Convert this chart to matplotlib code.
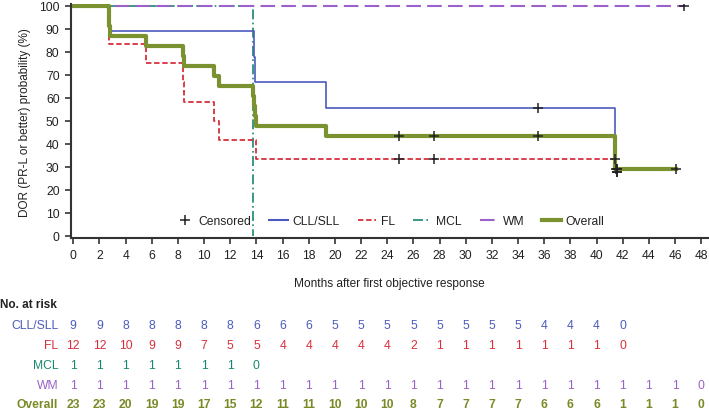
import matplotlib
matplotlib.use("Agg")
import matplotlib.pyplot as plt
from matplotlib.lines import Line2D
from matplotlib.transforms import blended_transform_factory

plt.rcParams['font.family'] = ['Liberation Sans', 'DejaVu Sans']

# ---- KM step data (time in months, survival %) ----
cll_t = [0, 2.74, 13.78, 13.9, 19.35, 41.4, 41.45]
cll_s = [100, 88.9, 77.8, 66.7, 55.6, 41.7, 27.8]
cll_end = 41.6
cll_cens_t = [35.5, 41.55, 41.6]
cll_cens_s = [55.6, 27.8, 27.8]

fl_t = [0, 2.74, 5.55, 8.39, 8.5, 10.79, 11.12, 14.0]
fl_s = [100, 83.3, 75.0, 66.7, 58.3, 50.0, 41.7, 33.3]
fl_end = 41.4
fl_cens_t = [24.9, 27.6, 41.4]
fl_cens_s = [33.3, 33.3, 33.3]

mcl_t = [0, 13.73]
mcl_s = [100, 0]
mcl_end = 13.73

wm_t = [0]
wm_s = [100]
wm_end = 46.7
wm_cens_t = [46.7]
wm_cens_s = [100]

ov_t = [0, 2.7, 2.75, 2.8, 5.55, 8.39, 8.5, 10.79, 11.12, 13.73, 13.8, 13.9, 14.0, 19.35, 41.4, 41.45]
ov_s = [100, 95.7, 91.3, 87.0, 82.6, 78.3, 73.9, 69.6, 65.2, 60.9, 56.5, 52.2, 47.8, 43.5, 36.2, 29.0]
ov_end = 46.1
ov_cens_t = [24.9, 27.6, 35.5, 41.5, 41.55, 41.6, 46.1]
ov_cens_s = [43.5, 43.5, 43.5, 29.0, 29.0, 29.0, 29.0]

# ---- number at risk ----
risk_times = list(range(0, 50, 2))
risk_cll = [9, 9, 8, 8, 8, 8, 8, 6, 6, 6, 5, 5, 5, 5, 5, 5, 5, 5, 4, 4, 4, 0]
risk_fl = [12, 12, 10, 9, 9, 7, 5, 5, 4, 4, 4, 4, 4, 2, 1, 1, 1, 1, 1, 1, 1, 0]
risk_mcl = [1, 1, 1, 1, 1, 1, 1, 0]
risk_wm = [1] * 24 + [0]
risk_ov = [23, 23, 20, 19, 19, 17, 15, 12, 11, 11, 10, 10, 10, 8, 7, 7, 7, 7, 6, 6, 6, 1, 1, 1, 0]

c_cll = '#4b5bbd'
c_fl = '#d7303c'
c_mcl = '#17876f'
c_wm = '#9a62c8'
c_ov = '#7b9230'
c_ovtxt = '#788a25'


def steps(t, s, end):
    return list(t) + [end], list(s) + [s[-1]]


fig = plt.figure(figsize=(7.09, 4.14), dpi=100)
ax = fig.add_axes([0.0997, 0.422, 0.9003, 0.566])

x, y = steps(mcl_t, mcl_s, mcl_end)
ax.step(x, y, where='post', color=c_mcl, lw=1.2, linestyle=(0, (6, 2, 1, 2)))
x, y = steps(wm_t, wm_s, wm_end)
ax.step(x, y, where='post', color=c_wm, lw=1.5, linestyle=(0, (7, 3)))
x, y = steps(cll_t, cll_s, cll_end)
ax.step(x, y, where='post', color=c_cll, lw=1.2)
x, y = steps(fl_t, fl_s, fl_end)
ax.step(x, y, where='post', color=c_fl, lw=1.3, linestyle=(0, (3, 1.5)))
x, y = steps(ov_t, ov_s, ov_end)
ax.step(x, y, where='post', color=c_ov, lw=3)

mk = dict(marker='+', color='#222222', markersize=7, mew=1.1, linestyle='none', zorder=5)
ax.plot(cll_cens_t, cll_cens_s, **mk)
ax.plot(fl_cens_t, fl_cens_s, **mk)
ax.plot(wm_cens_t, wm_cens_s, **mk)
ax.plot(ov_cens_t, ov_cens_s, **mk)

ax.set_xlim(-0.2, 48.6)
ax.set_ylim(-1.1, 100.7)
ax.set_xticks(range(0, 50, 2))
ax.set_yticks(range(0, 101, 10))
for side in ['top', 'right']:
    ax.spines[side].set_visible(False)
for side in ['left', 'bottom']:
    ax.spines[side].set_color('#333333')
    ax.spines[side].set_linewidth(1.5)
ax.tick_params(colors='#333333', labelsize=8.7, length=4.5, width=1.2, direction='out')
ax.tick_params(labelcolor='#222222')
ax.set_ylabel('DOR (PR-L or better) probability (%)', fontsize=8.5, color='#222222', labelpad=6)
ax.set_xlabel('Months after first objective response', fontsize=8.6, color='#222222', labelpad=11)

handles = [
    Line2D([], [], marker='+', color='#222222', linestyle='none', markersize=7, mew=1.1),
    Line2D([], [], color=c_cll, lw=1.5),
    Line2D([], [], color=c_fl, lw=1.3, linestyle=(0, (3, 1.5))),
    Line2D([], [], color=c_mcl, lw=1.2, linestyle=(0, (6, 2, 1, 2))),
    Line2D([], [], color=c_wm, lw=1.5, linestyle=(0, (7, 3))),
    Line2D([], [], color=c_ov, lw=3),
]
labels = ['Censored', 'CLL/SLL', 'FL', 'MCL', 'WM', 'Overall']
ax.legend(handles, labels, loc='center', bbox_to_anchor=(0.5, 0.072), ncol=6,
          frameon=False, fontsize=8.7, handlelength=1.5, handletextpad=0.4,
          columnspacing=1.5, labelcolor='#222222', borderpad=0.2)

# ---- at risk table ----
tr = blended_transform_factory(ax.transData, fig.transFigure)
fig.text(0.0, 0.263, 'No. at risk', fontsize=8.5, fontweight='bold', color='#222222',
         va='center', ha='left')
rows = [
    ('CLL/SLL', risk_cll, c_cll, 'normal', 0.213),
    ('FL', risk_fl, c_fl, 'normal', 0.165),
    ('MCL', risk_mcl, c_mcl, 'normal', 0.117),
    ('WM', risk_wm, c_wm, 'normal', 0.068),
    ('Overall', risk_ov, c_ovtxt, 'bold', 0.021),
]
for name, vals, col, wt, yy in rows:
    fig.text(0.082, yy, name, fontsize=8.7, color=col, fontweight=wt, ha='right', va='center')
    for t, v in zip(risk_times, vals):
        fig.text(t, yy, str(v), transform=tr, fontsize=8.7, color=col, fontweight=wt,
                 ha='center', va='center')

fig.savefig('out.png', dpi=100)
